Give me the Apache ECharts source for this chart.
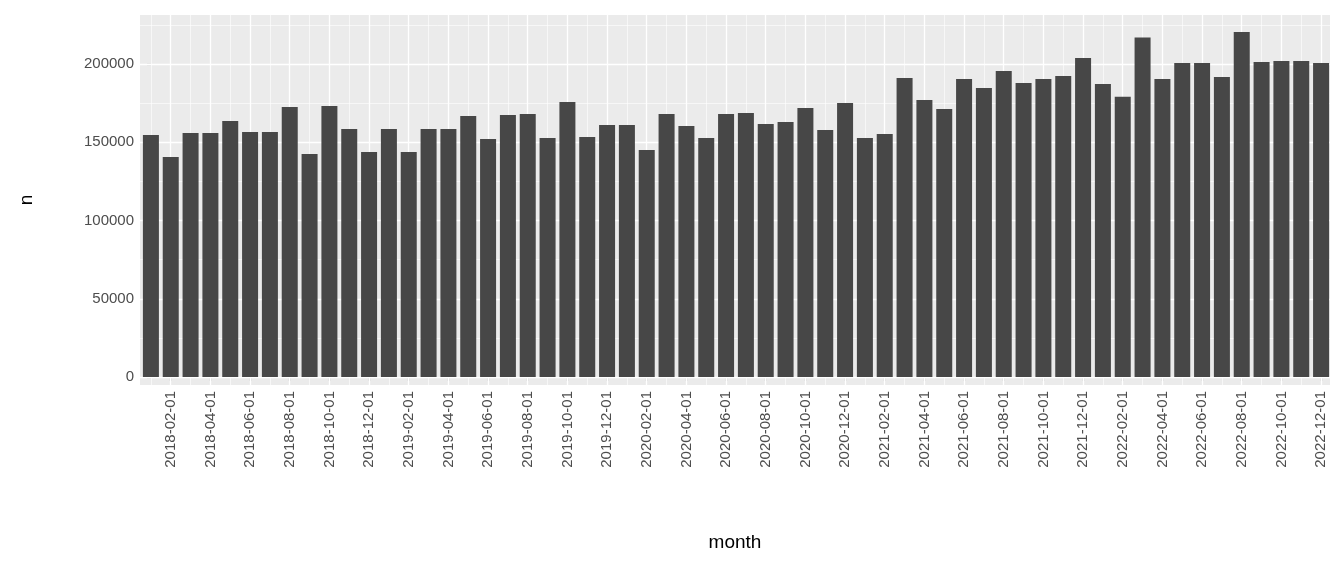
<!DOCTYPE html>
<html><head><meta charset="utf-8">
<script src="https://cdn.jsdelivr.net/npm/echarts@6/dist/echarts.min.js"></script>
<style>html,body{margin:0;padding:0;background:#fff}#c{width:1344px;height:576px}</style>
</head><body><div id="c"></div>
<script>
const months = [];
for (let y = 2018; y <= 2022; y++) for (let m = 1; m <= 12; m++) months.push(y + '-' + String(m).padStart(2, '0') + '-01');
const counts = [
154600,140600,155900,155900,163600,156500,156500,172500,142500,173200,158500,143800,
158500,143800,158500,158500,166800,152000,167400,168000,152700,175700,153400,161000,
161000,145000,168000,160400,152700,168000,168700,161700,163000,171900,157800,175100,
152700,155300,191100,177000,171200,190400,184700,195500,187900,190400,192300,203800,
187200,179000,217000,190400,200600,200600,191700,220400,201300,201900,201900,200600];
const yTicks = [0, 50000, 100000, 150000, 200000];
const yMinor = [25000, 75000, 125000, 175000, 225000];
const xTickIdx = months.map((m, i) => i).filter(i => i % 2 === 1);

const gridLines = [];
months.forEach((m, i) => gridLines.push({xAxis: i, lineStyle: {width: i % 2 === 1 ? 1.3 : 0.6}}));
yTicks.forEach(v => gridLines.push({yAxis: v, lineStyle: {width: 1.3}}));
yMinor.forEach(v => gridLines.push({yAxis: v, lineStyle: {width: 0.6}}));

const chart = echarts.init(document.getElementById('c'));
chart.setOption({
  animation: false,
  grid: {left: 140, right: 14, top: 15, bottom: 191, show: true, backgroundColor: '#ebebeb', borderWidth: 0},
  xAxis: {
    type: 'value', min: -0.55, max: 59.45,
    name: 'month', nameLocation: 'middle', nameGap: 148,
    nameTextStyle: {fontSize: 19, color: '#000', fontFamily: 'Liberation Sans'},
    axisLine: {show: false}, splitLine: {show: false},
    axisTick: {show: true, customValues: xTickIdx, length: 4, lineStyle: {color: '#333', width: 1.1}},
    axisLabel: {customValues: xTickIdx, rotate: 90, fontSize: 15, color: '#4d4d4d', margin: 6,
      fontFamily: 'Liberation Sans', formatter: v => months[Math.round(v)]}
  },
  yAxis: {
    type: 'value', min: -5100, max: 231300,
    name: 'n', nameLocation: 'middle', nameGap: 104,
    nameTextStyle: {fontSize: 19, color: '#000', fontFamily: 'Liberation Sans'},
    axisLine: {show: false}, splitLine: {show: false},
    axisTick: {show: true, customValues: yTicks, length: 4, lineStyle: {color: '#333', width: 1.1}},
    axisLabel: {customValues: yTicks, fontSize: 15, color: '#4d4d4d', margin: 6,
      fontFamily: 'Liberation Sans', formatter: v => String(v)}
  },
  series: [
    {type: 'line', data: [], zlevel: 0, z: 1, silent: true,
     markLine: {silent: true, symbol: 'none', label: {show: false}, animation: false,
       lineStyle: {color: '#fff', type: 'solid'}, data: gridLines}},
    {type: 'bar', zlevel: 1, z: 2, barWidth: 16, itemStyle: {color: '#474747'},
     data: counts.map((v, i) => [i, v])}
  ]
});
</script></body></html>
